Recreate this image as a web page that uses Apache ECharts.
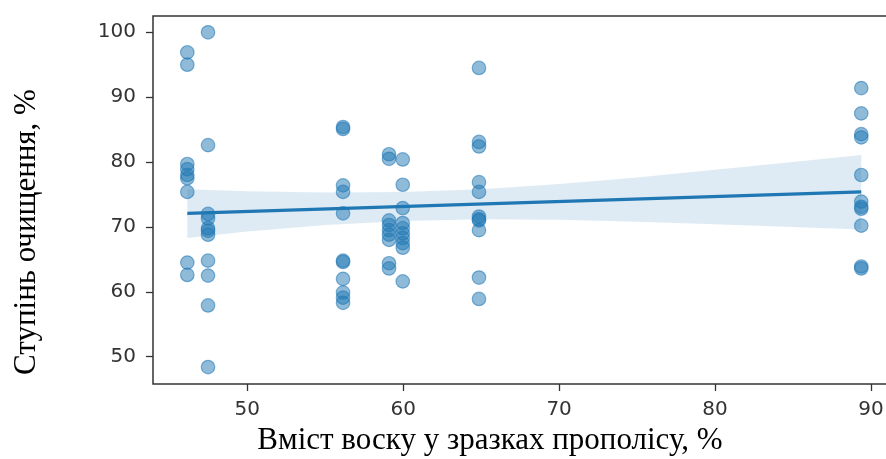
<!DOCTYPE html>
<html>
<head>
<meta charset="utf-8">
<script src="https://cdn.jsdelivr.net/npm/echarts@6/dist/echarts.min.js"></script>
<style>html,body{margin:0;padding:0;background:#fff}#c{width:886px;height:459px}</style>
</head>
<body>
<div id="c"></div>
<script>
// Scatter points: wax content (%) and purification degree (%)
const colA = [96.9, 95.0, 79.7, 78.9, 78.0, 77.5, 75.4, 64.5, 62.6];
const colB = [100.0, 82.6, 72.0, 71.3, 69.8, 69.4, 68.8, 64.8, 62.5, 57.9, 48.4];
const colC = [85.4, 85.1, 76.4, 75.4, 72.1, 64.8, 64.6, 62.0, 59.9, 59.1, 58.3];
const colD = [81.2, 80.5, 71.0, 70.3, 69.5, 68.8, 68.0, 64.4, 63.6];
const colE = [80.4, 76.5, 72.9, 70.6, 69.8, 69.0, 68.3, 67.5, 66.8, 61.6];
const colF = [94.5, 83.1, 82.4, 76.9, 75.4, 71.6, 71.2, 71.0, 69.5, 62.2, 58.9];
const colG = [91.4, 87.5, 84.3, 83.8, 78.0, 73.9, 73.1, 72.8, 70.2, 63.9, 63.6];
const waxLevels = [46.15, 47.48, 56.14, 59.09, 59.97, 64.86, 89.38];
const groups = [colA, colB, colC, colD, colE, colF, colG];

// Regression line endpoints
const fitX = [46.15, 89.38];
const fitY = [72.1, 75.4];

// Confidence band
const bandX = [46.15, 50, 55, 60, 65, 70, 75, 80, 85, 89.38];
const bandUpper = [75.8, 75.5, 75.3, 75.4, 75.8, 76.6, 77.6, 78.8, 80.0, 81.1];
const bandLower = [68.3, 69.3, 70.3, 70.9, 71.2, 71.1, 70.8, 70.4, 70.0, 69.6];

// Tick labels
const xTicks = [50, 60, 70, 80, 90];
const yTicks = [50, 60, 70, 80, 90, 100];

const scatterData = [];
groups.forEach((g, i) => g.forEach(v => scatterData.push([waxLevels[i], v])));
const bandData = bandX.map((x, i) => [x, bandLower[i], bandUpper[i]]);
const fitData = fitX.map((x, i) => [x, fitY[i]]);

const chart = echarts.init(document.getElementById('c'), null, {renderer: 'canvas'});
const labelStyle = {fontFamily: 'DejaVu Sans', fontSize: 20, color: '#333'};
chart.setOption({
  animation: false,
  backgroundColor: '#fff',
  grid: {left: 153, top: 16, width: 736, bottom: 75, outerBoundsMode: 'none', containLabel: false, show: true, borderColor: '#333', borderWidth: 1.5, backgroundColor: 'transparent'},
  xAxis: {
    type: 'value', min: 43.95, max: 91.16,
    axisLine: {show: false},
    splitLine: {show: false},
    axisTick: {show: true, length: 7, lineStyle: {color: '#333', width: 1.3}, customValues: xTicks},
    axisLabel: Object.assign({margin: 16, customValues: xTicks}, labelStyle)
  },
  yAxis: {
    type: 'value', min: 45.79, max: 102.51,
    axisLine: {show: false},
    splitLine: {show: false},
    axisTick: {show: true, length: 7, lineStyle: {color: '#333', width: 1.3}, customValues: yTicks},
    axisLabel: Object.assign({margin: 17, customValues: yTicks}, labelStyle)
  },
  graphic: [
    {type: 'text', x: 490, y: 441, style: {text: 'Вміст воску у зразках прополісу, %', font: '31px "Liberation Serif"', fill: '#000', textAlign: 'center', textVerticalAlign: 'middle'}},
    {type: 'text', x: 27, y: 232, rotation: Math.PI / 2, style: {text: 'Ступінь очищення, %', font: '31px "Liberation Serif"', fill: '#000', textAlign: 'center', textVerticalAlign: 'middle'}}
  ],
  series: [
    {
      type: 'custom',
      data: bandData,
      z: 1,
      silent: true,
      renderItem: function (params, api) {
        if (params.dataIndex !== 0) return null;
        const pts = [];
        for (let i = 0; i < bandData.length; i++) pts.push(api.coord([bandData[i][0], bandData[i][2]]));
        for (let i = bandData.length - 1; i >= 0; i--) pts.push(api.coord([bandData[i][0], bandData[i][1]]));
        return {type: 'polygon', shape: {points: pts}, style: {fill: 'rgba(31,119,180,0.15)', stroke: null}};
      }
    },
    {
      type: 'scatter',
      data: scatterData,
      symbolSize: 13.5,
      z: 2,
      itemStyle: {color: 'rgba(31,119,180,0.5)', borderColor: 'rgba(31,119,180,0.55)', borderWidth: 1.2, opacity: 1}
    },
    {
      type: 'line',
      data: fitData,
      symbol: 'none',
      z: 3,
      lineStyle: {color: '#1f77b4', width: 3.2}
    }
  ]
});
</script>
</body>
</html>
